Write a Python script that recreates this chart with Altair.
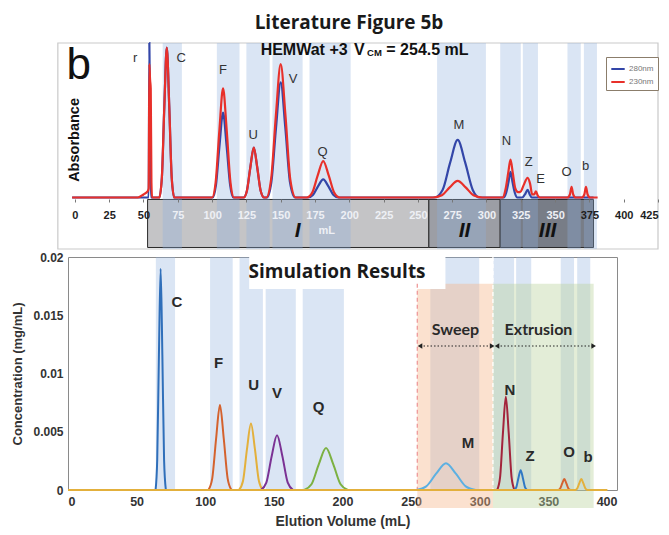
import altair as alt
import pandas as pd

# ---------------- shared shaded bands (elution windows, mL) ----------------
BAND_START = [64, 103.5, 125, 144, 171, 264, 310, 326.5, 359, 371]
BAND_END = [78, 120, 142, 166, 201, 299.6, 325, 337.5, 368.7, 380.5]

# ---------------- top panel: literature chromatogram ----------------
TOP_X_DOMAIN = [-5, 425]
TOP_Y_DOMAIN = [-0.34, 1.02]
TOP_FRAME_X = [-12.4, 425]
TOP_TICKS = [0, 25, 50, 75, 100, 125, 150, 175, 200, 225, 250, 275, 300, 325, 350, 375, 400, 425]

ABS280_VOL = [-2, 53.8, 54.3, 55.0, 55.5,
              61.5, 63.4, 65.2, 67.0, 68.8, 70.6, 72.5,
              100.5, 102.8, 105.4, 108.0, 110.6, 113.2, 115.5,
              123.0, 125.4, 127.9, 130.4, 132.9, 135.4, 138.0,
              140.0, 143.2, 146.6, 150.0, 153.4, 156.8, 160.5,
              170.0, 173.5, 177.2, 181.0, 184.8, 188.5, 192.0,
              262.0, 268.0, 273.5, 279.0, 284.5, 290.0, 295.0,
              312.5, 314.3, 316.0, 317.5, 319.0, 320.7, 322.5,
              326.0, 328.0, 330.0, 331.5, 333.0, 378.0]
ABS280_VAL = [0, 0, 1.02, 0.30, 0,
              0, 0.13, 0.60, 0.99, 0.60, 0.13, 0,
              0, 0.08, 0.34, 0.56, 0.34, 0.08, 0,
              0, 0.045, 0.20, 0.33, 0.20, 0.045, 0,
              0, 0.10, 0.46, 0.76, 0.46, 0.10, 0,
              0, 0.016, 0.073, 0.12, 0.073, 0.016, 0,
              0, 0.05, 0.23, 0.38, 0.23, 0.05, 0,
              0, 0.03, 0.10, 0.17, 0.10, 0.03, 0,
              0, 0.02, 0.05, 0.02, 0, 0]

ABS230_VOL = [-2, 46.0, 50.0, 53.0, 53.8, 54.3, 54.8, 55.3, 55.8, 56.3,
              61.5, 63.4, 65.2, 67.0, 68.8, 70.6, 72.5,
              100.0, 102.6, 105.3, 108.0, 110.7, 113.4, 116.0,
              123.0, 125.4, 127.9, 130.4, 132.9, 135.4, 138.0,
              139.5, 143.0, 146.5, 150.0, 153.5, 157.0, 161.0,
              169.0, 173.0, 177.0, 181.0, 185.0, 189.0, 193.0,
              261.0, 267.5, 273.2, 279.0, 284.8, 290.5, 297.0,
              312.0, 314.0, 315.8, 317.5, 319.2, 321.0, 323.0, 325.0,
              327.0, 330.0, 331.8, 333.3, 334.8, 336.0, 337.5, 339.0,
              359.0, 360.8, 362.0, 363.2, 365.0,
              369.5, 371.3, 372.5, 373.7, 375.5, 381.0]
ABS230_VAL = [0, 0, 0.02, 0.04, 0.06, 0.88, 0.78, 0.72, 0.10, 0,
              0, 0.13, 0.60, 0.99, 0.60, 0.13, 0,
              0, 0.10, 0.44, 0.72, 0.44, 0.10, 0,
              0, 0.045, 0.20, 0.33, 0.20, 0.045, 0,
              0, 0.12, 0.54, 0.88, 0.54, 0.12, 0,
              0, 0.032, 0.146, 0.24, 0.146, 0.032, 0,
              0, 0.015, 0.067, 0.11, 0.067, 0.015, 0,
              0, 0.06, 0.16, 0.25, 0.16, 0.06, 0.035, 0.04,
              0.08, 0.13, 0.09, 0.02, 0.02, 0.04, 0.01, 0,
              0, 0.02, 0.07, 0.02, 0,
              0, 0.02, 0.07, 0.02, 0, 0]

TOP_LABELS = ["r", "C", "F", "U", "V", "Q", "M", "N", "Z", "E", "O", "b"]
TOP_LABEL_X = [44, 77.5, 108, 130, 159, 180.6, 280, 314.6, 330.7, 339.4, 358.3, 372.2]
TOP_LABEL_Y = [0.92, 0.92, 0.84, 0.41, 0.78, 0.30, 0.48, 0.37, 0.235, 0.12, 0.17, 0.21]

ZONE_NAMES = ["I", "II", "III"]
ZONE_START = [53, 258, 310]
ZONE_END = [258, 310, 378]
ZONE_TOP = [-0.013, -0.013, -0.013]
ZONE_BOTTOM = [-0.33, -0.33, -0.33]
ZONE_LABEL_X = [162.4, 284, 344.5]
ZONE_LABEL_Y = [-0.224, -0.224, -0.224]

HEAD_TEXT = ["HEMWat +3", "V", "= 254.5 mL"]
HEAD_X = [135.4, 203.5, 227.0]
HEAD_Y = [0.975, 0.975, 0.975]
SUB_TEXT = ["CM"]
SUB_X = [213.0]
SUB_Y = [0.952]

# ---------------- bottom panel: simulation ----------------
SIM_X_DOMAIN = [0, 400]
SIM_Y_DOMAIN = [0, 0.02]
SIM_X_TICKS = [0, 50, 100, 150, 200, 250, 300, 350, 400]
SIM_Y_TICKS = [0, 0.005, 0.01, 0.015, 0.02]

SIM_NAMES = ["C", "F", "U", "V", "Q", "M", "N", "Z", "O", "b"]
SIM_COLORS = ["#2f6fba", "#d4622e", "#e3b03c", "#7b3294", "#7cb142",
              "#5cb0e2", "#a3243b", "#2f78c4", "#d4622e", "#e3b03c"]

C_VOL = [63.8, 65.0, 66.25, 67.5, 68.75, 70.0, 71.3]
C_CONC = [0, 0.0026, 0.0116, 0.0190, 0.0116, 0.0026, 0]
F_VOL = [102.3, 105.1, 107.9, 110.7, 113.5, 116.3, 119.1]
F_CONC = [0, 0.0010, 0.0044, 0.0073, 0.0044, 0.0010, 0]
U_VOL = [124.6, 127.5, 130.4, 133.3, 136.2, 139.1, 142.0]
U_CONC = [0, 0.00077, 0.0035, 0.0057, 0.0035, 0.00077, 0]
V_VOL = [140.6, 144.5, 148.4, 152.3, 156.2, 160.1, 164.0]
V_CONC = [0, 0.00063, 0.0029, 0.0047, 0.0029, 0.00063, 0]
Q_VOL = [172.1, 177.4, 182.7, 188.0, 193.3, 198.6, 203.9]
Q_CONC = [0, 0.00049, 0.0022, 0.0036, 0.0022, 0.00049, 0]
M_VOL = [253.8, 261.0, 268.2, 275.4, 282.6, 289.8, 297.0]
M_CONC = [0, 0.00031, 0.0014, 0.0023, 0.0014, 0.00031, 0]
N_VOL = [312.7, 314.8, 316.9, 319.0, 321.1, 323.2, 325.3]
N_CONC = [0, 0.00108, 0.0049, 0.0080, 0.0049, 0.00108, 0]
Z_VOL = [325.0, 326.6, 328.2, 329.8, 331.4, 333.0, 334.6]
Z_CONC = [0, 0.00023, 0.00104, 0.0017, 0.00104, 0.00023, 0]
O_VOL = [357.1, 358.6, 360.1, 361.6, 363.1, 364.6, 366.1]
O_CONC = [0, 0.00013, 0.00057, 0.00094, 0.00057, 0.00013, 0]
B_VOL = [0, 369.5, 371.0, 372.5, 374.0, 375.5, 377.0, 378.5, 393.0]
B_CONC = [0, 0, 0.00013, 0.00057, 0.00094, 0.00057, 0.00013, 0, 0]

SIM_LABEL_X = [79.4, 109.8, 135.3, 152.3, 182.6, 291.4, 322, 336.6, 365, 379]
SIM_LABEL_Y = [0.0161, 0.01093, 0.00901, 0.00835, 0.00715, 0.00401, 0.00858, 0.0029, 0.0033, 0.0028]

PHASE_NAMES = ["Sweep", "Extrusion"]
PHASE_START = [254.5, 309.6]
PHASE_END = [309.6, 383]
PHASE_TOP = [0.0177, 0.0177]
PHASE_BOTTOM = [-0.00155, -0.00155]
PHASE_LABEL_X = [282.3, 342.8]
PHASE_LABEL_Y = [0.01373, 0.01373]
ARROW_START = [256.5, 312.6]
ARROW_END = [309.0, 383.0]
ARROW_Y = [0.01236, 0.01236]

BOX_X = [132, 275]
BOX_Y = [0.01725, 0.0200]
BOX_TEXT_X = [196]
BOX_TEXT_Y = [0.0187]

DASH_X = [254.5, 309.6]
DASH_TOP = [0.0177, 0.0200]
DASH_COLOR = ["#ef9a9a", "#ffffff"]

FONT = "Liberation Sans"
TITLE_FONT = "Open Sans"

# ================= build top panel =================
XT = alt.Scale(domain=TOP_X_DOMAIN, nice=False, zero=False)
YT = alt.Scale(domain=TOP_Y_DOMAIN, nice=False, zero=False)

label_color = alt.expr("datum.value >= 60 && datum.value <= 360 ? '#eef0f5' : '#1e1e1e'")
TOP_AXIS = alt.Axis(values=TOP_TICKS, tickCount=18, offset=-50, domain=False, tickSize=3, tickColor="#777",
                    labelFontSize=11, labelFontWeight="bold", labelFont=FONT, labelColor=label_color,
                    labelPadding=7, grid=False, title=None, zindex=2, labelFlush=True,
                    labelOverlap=False)


def tx(field):
    return alt.X(field, scale=XT, axis=TOP_AXIS)


def ty(field):
    return alt.Y(field, scale=YT, axis=None)


zone_df = pd.DataFrame({"zone": ZONE_NAMES, "start": ZONE_START, "end": ZONE_END,
                        "top": ZONE_TOP, "bottom": ZONE_BOTTOM,
                        "shade": ["#c4c4c6", "#9c9ea5", "#787d87"],
                        "lx": ZONE_LABEL_X, "ly": ZONE_LABEL_Y})

frame_df = pd.DataFrame({"x": [TOP_FRAME_X[0]], "x2": [TOP_FRAME_X[1]],
                         "y": [TOP_Y_DOMAIN[0]], "y2": [TOP_Y_DOMAIN[1]]})
top_frame = alt.Chart(frame_df).mark_rect(fill="white", stroke="#c9c9c9", strokeWidth=1.2, clip=False).encode(
    x=tx("x:Q"), x2="x2:Q", y=ty("y:Q"), y2="y2:Q")

zones = alt.Chart(zone_df).mark_rect(stroke="#2a2a2a", strokeWidth=1).encode(
    x=tx("start:Q"), x2="end:Q", y=ty("top:Q"), y2="bottom:Q",
    fill=alt.Fill("shade:N", scale=None))

band_df = pd.DataFrame({"start": BAND_START, "end": BAND_END})
top_bands = alt.Chart(band_df).mark_rect(color="#8fb0dd", opacity=0.33).encode(
    x=tx("start:Q"), x2="end:Q")

top_lines_df = pd.concat([
    pd.DataFrame({"vol": ABS280_VOL, "val": ABS280_VAL, "signal": "280nm"}),
    pd.DataFrame({"vol": ABS230_VOL, "val": ABS230_VAL, "signal": "230nm"}),
])
top_lines = alt.Chart(top_lines_df).mark_line(strokeWidth=2.2, interpolate="monotone").encode(
    x=tx("vol:Q"), y=ty("val:Q"),
    color=alt.Color("signal:N", scale=alt.Scale(domain=["280nm", "230nm"], range=["#3346a8", "#e8302a"]),
                    legend=alt.Legend(orient="none", legendX=538, legendY=14, title=None,
                                      symbolType="stroke", symbolStrokeWidth=2, symbolSize=180,
                                      labelFontSize=8, labelColor="#777", labelFont=FONT,
                                      strokeColor="#8b7d6b", fillColor="white", padding=4,
                                      rowPadding=1, labelOffset=3)))

top_lab_df = pd.DataFrame({"x": TOP_LABEL_X, "y": TOP_LABEL_Y, "t": TOP_LABELS})
top_labels = alt.Chart(top_lab_df).mark_text(font=FONT, fontSize=13, color="#333").encode(
    x=tx("x:Q"), y=ty("y:Q"), text="t:N")

zone_labels = alt.Chart(zone_df).mark_text(font=FONT, fontSize=21, fontWeight="bold", fontStyle="italic",
                                           color="#111").encode(
    x=tx("lx:Q"), y=ty("ly:Q"), text="zone:N")

ml_df = pd.DataFrame({"x": [183.5], "y": [-0.224], "t": ["mL"]})
ml_label = alt.Chart(ml_df).mark_text(font=FONT, fontSize=11, fontWeight="bold", color="#eef0f5").encode(
    x=tx("x:Q"), y=ty("y:Q"), text="t:N")

b_df = pd.DataFrame({"x": [2.9], "y": [0.87], "t": ["b"]})
b_label = alt.Chart(b_df).mark_text(font=FONT, fontSize=44, color="#111").encode(
    x=tx("x:Q"), y=ty("y:Q"), text="t:N")

abs_df = pd.DataFrame({"x": [0], "y": [0.38], "t": ["Absorbance"]})
abs_label = alt.Chart(abs_df).mark_text(font=FONT, fontSize=14.5, fontWeight="bold", angle=270,
                                        color="#111").encode(
    x=tx("x:Q"), y=ty("y:Q"), text="t:N")

head_df = pd.DataFrame({"x": HEAD_X, "y": HEAD_Y, "t": HEAD_TEXT})
head = alt.Chart(head_df).mark_text(font=FONT, fontSize=16, fontWeight="bold", align="left",
                                    color="#111").encode(
    x=tx("x:Q"), y=ty("y:Q"), text="t:N")
sub_df = pd.DataFrame({"x": SUB_X, "y": SUB_Y, "t": SUB_TEXT})
sub = alt.Chart(sub_df).mark_text(font=FONT, fontSize=9.5, fontWeight="bold", align="left",
                                  color="#111").encode(
    x=tx("x:Q"), y=ty("y:Q"), text="t:N")

top = alt.layer(top_frame, zones, top_bands, top_lines, top_labels, zone_labels, ml_label,
                b_label, abs_label, head, sub).properties(
    width=590, height=206,
    view=alt.ViewBackground(stroke="transparent"),
    title=alt.TitleParams(text="Literature Figure 5b", font=TITLE_FONT, fontSize=19, fontWeight="bold",
                          color="#1a1a1a", anchor="middle", offset=6, dx=-14))

# ================= build bottom panel =================
XS = alt.Scale(domain=SIM_X_DOMAIN, nice=False, zero=False)
YS = alt.Scale(domain=SIM_Y_DOMAIN, nice=False, zero=False)

X_AXIS = alt.Axis(values=SIM_X_TICKS, title="Elution Volume (mL)", labelFont=FONT, titleFont=FONT,
                  labelFontSize=12.5, labelFontWeight="bold", labelColor="#333",
                  titleFontSize=14, titleFontWeight="bold", titleColor="#333",
                  ticks=False, domain=False, grid=False, labelPadding=5, titlePadding=7)
Y_AXIS = alt.Axis(values=SIM_Y_TICKS, format="~g", title="Concentration (mg/mL)", labelFont=FONT,
                  titleFont=FONT, labelFontSize=12, labelFontWeight="bold", labelColor="#333",
                  titleFontSize=13, titleFontWeight="bold", titleColor="#333",
                  ticks=False, domain=False, grid=False, labelPadding=5, titlePadding=8)


def bx(field):
    return alt.X(field, scale=XS, axis=X_AXIS)


def by(field):
    return alt.Y(field, scale=YS, axis=Y_AXIS)


sim_parts = []
for name, vols, concs in zip(SIM_NAMES,
                             [C_VOL, F_VOL, U_VOL, V_VOL, Q_VOL, M_VOL, N_VOL, Z_VOL, O_VOL, B_VOL],
                             [C_CONC, F_CONC, U_CONC, V_CONC, Q_CONC, M_CONC, N_CONC, Z_CONC, O_CONC, B_CONC]):
    sim_parts.append(pd.DataFrame({"vol": vols, "conc": concs, "peak": name}))
sim_df = pd.concat(sim_parts)

phase_df = pd.DataFrame({"name": PHASE_NAMES, "start": PHASE_START, "end": PHASE_END,
                         "top": PHASE_TOP, "bottom": PHASE_BOTTOM,
                         "shade": ["#f5b387", "#b9d39a"],
                         "lx": PHASE_LABEL_X, "ly": PHASE_LABEL_Y,
                         "a0": ARROW_START, "a1": ARROW_END, "ay": ARROW_Y})

band_full_df = pd.DataFrame({"start": BAND_START, "end": BAND_END,
                             "lo": [SIM_Y_DOMAIN[0]] * len(BAND_START),
                             "hi": [SIM_Y_DOMAIN[1]] * len(BAND_START)})
bot_bands = alt.Chart(band_full_df).mark_rect(color="#8fb0dd", opacity=0.33).encode(
    x=bx("start:Q"), x2="end:Q", y=by("lo:Q"), y2="hi:Q")

phases = alt.Chart(phase_df).mark_rect(opacity=0.4, clip=False).encode(
    x=bx("start:Q"), x2="end:Q", y=by("top:Q"), y2="bottom:Q",
    fill=alt.Fill("shade:N", scale=None))

box_df = pd.DataFrame({"x": [BOX_X[0]], "x2": [BOX_X[1]], "y": [BOX_Y[0]], "y2": [BOX_Y[1]]})
box = alt.Chart(box_df).mark_rect(fill="white").encode(
    x=bx("x:Q"), x2="x2:Q", y=by("y:Q"), y2="y2:Q")

dash_df = pd.DataFrame({"x": DASH_X, "top": DASH_TOP, "bottom": [0, 0], "c": DASH_COLOR})
dashes = alt.Chart(dash_df).mark_rule(strokeDash=[4, 3], strokeWidth=1.3).encode(
    x=bx("x:Q"), y=by("top:Q"), y2="bottom:Q",
    stroke=alt.Stroke("c:N", scale=None))

sim_lines = alt.Chart(sim_df).mark_line(strokeWidth=2, interpolate="monotone").encode(
    x=bx("vol:Q"), y=by("conc:Q"),
    color=alt.Color("peak:N", scale=alt.Scale(domain=SIM_NAMES, range=SIM_COLORS), legend=None))

sim_lab_df = pd.DataFrame({"x": SIM_LABEL_X, "y": SIM_LABEL_Y, "t": SIM_NAMES})
sim_labels = alt.Chart(sim_lab_df).mark_text(font=FONT, fontSize=15, fontWeight="bold", color="#2a2a2a").encode(
    x=bx("x:Q"), y=by("y:Q"), text="t:N")

box_text_df = pd.DataFrame({"x": BOX_TEXT_X, "y": BOX_TEXT_Y, "t": ["Simulation Results"]})
box_text = alt.Chart(box_text_df).mark_text(font=TITLE_FONT, fontSize=19, fontWeight="bold",
                                            color="#1a1a1a").encode(
    x=bx("x:Q"), y=by("y:Q"), text="t:N")

phase_text = alt.Chart(phase_df).mark_text(font="Lato", fontSize=16, fontWeight="bold", color="#2a2a2a").encode(
    x=bx("lx:Q"), y=by("ly:Q"), text="name:N")

arrow_lines = alt.Chart(phase_df).mark_rule(strokeDash=[1.5, 2], strokeWidth=1.2, color="#222").encode(
    x=bx("a0:Q"), x2="a1:Q", y=by("ay:Q"))
heads_df = pd.DataFrame({"x": ARROW_START + ARROW_END, "y": ARROW_Y + ARROW_Y,
                         "s": ["triangle-left"] * 2 + ["triangle-right"] * 2})
arrow_heads = alt.Chart(heads_df).mark_point(filled=True, size=28, color="#222", opacity=1).encode(
    x=bx("x:Q"), y=by("y:Q"), shape=alt.Shape("s:N", scale=None))

bottom = alt.layer(bot_bands, phases, box, dashes, sim_lines, sim_labels, box_text,
                   phase_text, arrow_lines, arrow_heads).properties(
    width=549, height=233, view=alt.ViewBackground(stroke="#8a8a8a"))

chart = alt.vconcat(top, bottom, spacing=8, bounds="flush").resolve_scale(color="independent").properties(
    padding={"left": 3, "top": 5, "right": 0, "bottom": 0}
).configure(background="white")

chart.save("out.html", embed_options={"renderer": "svg", "actions": False})
